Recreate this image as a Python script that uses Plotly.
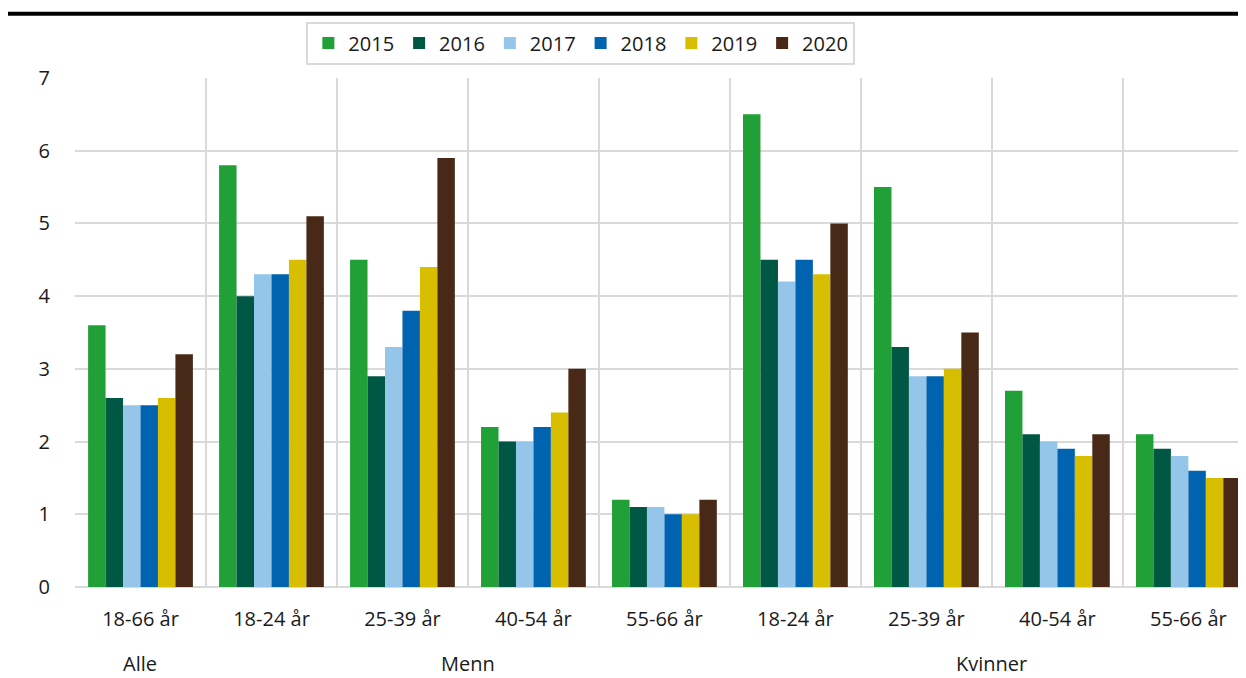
import plotly.graph_objects as go

categories = ["18-66 år", "18-24 år", "25-39 år", "40-54 år", "55-66 år",
              "18-24 år", "25-39 år", "40-54 år", "55-66 år"]
groups = ["Alle", "Menn", "Kvinner"]
group_spans = [(0, 0), (1, 4), (5, 8)]
years = ["2015", "2016", "2017", "2018", "2019", "2020"]

v2015 = [3.6, 5.8, 4.5, 2.2, 1.2, 6.5, 5.5, 2.7, 2.1]
v2016 = [2.6, 4.0, 2.9, 2.0, 1.1, 4.5, 3.3, 2.1, 1.9]
v2017 = [2.5, 4.3, 3.3, 2.0, 1.1, 4.2, 2.9, 2.0, 1.8]
v2018 = [2.5, 4.3, 3.8, 2.2, 1.0, 4.5, 2.9, 1.9, 1.6]
v2019 = [2.6, 4.5, 4.4, 2.4, 1.0, 4.3, 3.0, 1.8, 1.5]
v2020 = [3.2, 5.1, 5.9, 3.0, 1.2, 5.0, 3.5, 2.1, 1.5]
series = [v2015, v2016, v2017, v2018, v2019, v2020]
colors = ["#21a038", "#005744", "#95c6ea", "#0063b0", "#d7bf00", "#482816"]

xpos = list(range(len(categories)))

fig = go.Figure()
for name, vals, col in zip(years, series, colors):
    fig.add_trace(go.Bar(x=xpos, y=vals, name=name, marker_color=col,
                         marker_line_width=0))

font = "Open Sans, Noto Sans, sans-serif"
grid = "#d9d9d9"
txt = "#1a1a1a"

fig.update_layout(
    width=1246, height=678,
    margin=dict(l=67, r=8, t=70, b=99),
    paper_bgcolor="white", plot_bgcolor="white",
    barmode="group", bargap=0.2, bargroupgap=0,
    font=dict(family=font, size=20, color=txt),
    showlegend=True,
    legend=dict(orientation="h", x=0.432, xanchor="center", y=1.111, yanchor="top",
                bordercolor=grid, borderwidth=2, itemwidth=30,
                font=dict(size=20), traceorder="normal"),
    xaxis=dict(range=[-0.5, 8.44], tickmode="array", tickvals=xpos,
               ticktext=categories, showgrid=False, zeroline=False,
               ticks="", ticklabelstandoff=18, showline=False,
               minor=dict(tick0=-0.5, dtick=1, showgrid=True, gridcolor=grid,
                          gridwidth=2, ticks="")),
    yaxis=dict(range=[0, 7], dtick=1, showgrid=True, gridcolor=grid, gridwidth=2,
               zeroline=True, zerolinecolor=grid, zerolinewidth=2,
               ticks="", ticklabelstandoff=24, showline=False),
)

for g, (a, b) in zip(groups, group_spans):
    fig.add_annotation(x=(a + b) / 2, y=-0.151, xref="x", yref="paper",
                       text=g, showarrow=False, yanchor="middle",
                       font=dict(size=20, family=font, color=txt))

fig.add_shape(type="line", xref="paper", yref="paper",
              x0=-0.06, x1=1.01, y0=1.126, y1=1.126,
              line=dict(color="black", width=4))

fig.write_html("out.html")
